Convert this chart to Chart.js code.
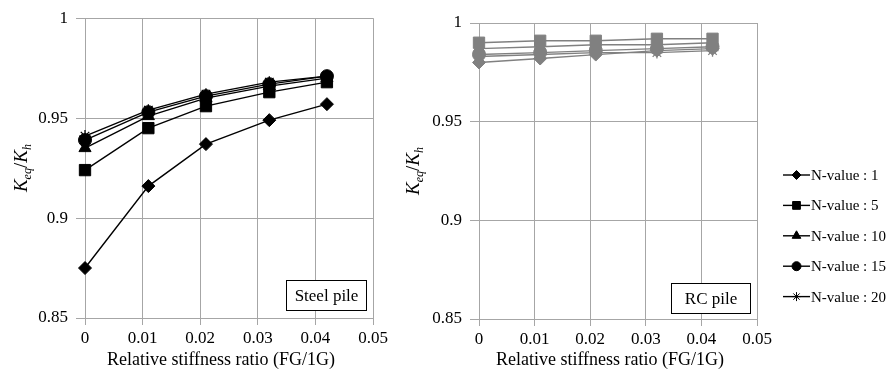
<!DOCTYPE html>
<html>
<head>
<meta charset="utf-8">
<title>Keq/Kh vs relative stiffness ratio</title>
<script src="https://cdn.jsdelivr.net/npm/chart.js@4/dist/chart.umd.min.js"></script>
<style>
  body { margin: 0; background: #fff; width: 896px; height: 371px; overflow: hidden; position: relative; }
  canvas { position: absolute; top: 0; }
  #steelChart { left: 0; }
  #rcChart { left: 400px; }
</style>
</head>
<body>
<canvas id="steelChart" width="440" height="371"></canvas>
<canvas id="rcChart" width="496" height="371"></canvas>
<script>
// relative stiffness ratio FG/1G
var stiffness = [0, 0.011, 0.021, 0.032, 0.042];

var seriesNames = ["N-value : 1", "N-value : 5", "N-value : 10", "N-value : 15", "N-value : 20"];
var markers = ["rectRot", "rect", "triangle", "circle", "star"];
var markerSize = [6.5, 8, 7, 6.5, 6];
var legendSize = [4.5, 5.5, 5, 4.5, 4.5];

// Keq/Kh, steel pile
var steelN1  = [0.875, 0.916, 0.937, 0.949, 0.957];
var steelN5  = [0.924, 0.945, 0.956, 0.963, 0.968];
var steelN10 = [0.935, 0.951, 0.960, 0.966, 0.970];
var steelN15 = [0.939, 0.953, 0.961, 0.967, 0.971];
var steelN20 = [0.941, 0.954, 0.962, 0.968, 0.971];

// Keq/Kh, RC pile
var rcN1  = [0.980, 0.982, 0.984, 0.986, 0.987];
var rcN5  = [0.990, 0.991, 0.991, 0.992, 0.992];
var rcN10 = [0.987, 0.988, 0.989, 0.989, 0.990];
var rcN15 = [0.984, 0.985, 0.986, 0.987, 0.988];
var rcN20 = [0.983, 0.984, 0.985, 0.985, 0.986];

var yTicks = [0.85, 0.9, 0.95, 1];
var xTitle = "Relative stiffness ratio (FG/1G)";

var FONT = "'Liberation Serif', 'Times New Roman', serif";
var GRID = "#a6a6a6";

function makeDatasets(rows, color) {
    var ds = [];
    for (var i = 0; i < rows.length; i++) {
        var pts = [];
        for (var j = 0; j < stiffness.length; j++) pts.push({ x: stiffness[j], y: rows[i][j] });
        ds.push({
            label: seriesNames[i],
            data: pts,
            borderColor: color,
            backgroundColor: color,
            borderWidth: 1.4,
            pointStyle: markers[i],
            pointRadius: markerSize[i],
            pointBorderWidth: markers[i] == "star" ? 1.3 : 1,
            pointBorderColor: color,
            pointBackgroundColor: color,
            fill: false,
            tension: 0,
            clip: false,
            order: rows.length - i
        });
    }
    return ds;
}

function drawYTitle(ctx, cx, cy) {
    var parts = [
        { t: "K", f: "italic 19px " + FONT, dy: 0 },
        { t: "eq", f: "italic 12px " + FONT, dy: 4 },
        { t: "/", f: "19px " + FONT, dy: 0 },
        { t: "K", f: "italic 19px " + FONT, dy: 0 },
        { t: "h", f: "italic 12px " + FONT, dy: 4 }
    ];
    ctx.save();
    ctx.translate(cx, cy);
    ctx.rotate(-Math.PI / 2);
    var w = 0;
    parts.forEach(function(p) { ctx.font = p.f; w += ctx.measureText(p.t).width; });
    var x = -w / 2;
    ctx.fillStyle = "#000";
    ctx.textBaseline = "alphabetic";
    parts.forEach(function(p) {
        ctx.font = p.f;
        ctx.fillText(p.t, x, 6 + p.dy);
        x += ctx.measureText(p.t).width;
    });
    ctx.restore();
}

// axis titles, boxed panel name and (optionally) the shared legend
var panelDeco = {
    id: "panelDeco",
    afterDraw: function(chart, args, opts) {
        var ctx = chart.ctx;
        var area = chart.chartArea;
        drawYTitle(ctx, opts.titleX, (area.top + area.bottom) / 2);

        ctx.save();
        ctx.fillStyle = "#000";
        ctx.font = "18px " + FONT;
        ctx.textAlign = "center";
        ctx.textBaseline = "middle";
        ctx.fillText(xTitle, (area.left + area.right) / 2 - 8, 360);
        ctx.restore();

        var bx = area.right - opts.boxInset[0] - opts.boxW;
        var by = area.bottom - opts.boxInset[1] - opts.boxH;
        ctx.save();
        ctx.fillStyle = "#fff";
        ctx.fillRect(bx, by, opts.boxW, opts.boxH);
        ctx.strokeStyle = "#000";
        ctx.lineWidth = 1;
        ctx.strokeRect(bx + 0.5, by + 0.5, opts.boxW - 1, opts.boxH - 1);
        ctx.fillStyle = "#000";
        ctx.font = "17px " + FONT;
        ctx.textAlign = "center";
        ctx.textBaseline = "middle";
        ctx.fillText(opts.boxText, bx + opts.boxW / 2, by + opts.boxH / 2 + 1);
        ctx.restore();

        if (!opts.legend) return;
        var lg = opts.legend;
        ctx.save();
        for (var i = 0; i < seriesNames.length; i++) {
            var y = lg.top + i * lg.step;
            ctx.strokeStyle = "#000";
            ctx.lineWidth = 1.4;
            ctx.beginPath();
            ctx.moveTo(lg.x, y);
            ctx.lineTo(lg.x + lg.len, y);
            ctx.stroke();
            ctx.fillStyle = "#000";
            ctx.lineWidth = 1;
            Chart.helpers.drawPoint(ctx, { pointStyle: markers[i], radius: legendSize[i], rotation: 0, borderWidth: 1 }, lg.x + lg.len / 2, y);
            ctx.font = "15px " + FONT;
            ctx.textAlign = "left";
            ctx.textBaseline = "middle";
            ctx.fillText(seriesNames[i], lg.x + lg.len + 1, y + 1);
        }
        ctx.restore();
    }
};

function makeOptions(pad, yWidth, xHeight, deco) {
    return {
        responsive: false,
        animation: false,
        layout: { padding: pad },
        plugins: {
            legend: { display: false },
            tooltip: { enabled: false },
            panelDeco: deco
        },
        scales: {
            x: {
                type: "linear",
                min: 0,
                max: 0.05,
                ticks: {
                    stepSize: 0.01,
                    color: "#000",
                    font: { family: FONT, size: 17 },
                    padding: 3,
                    maxRotation: 0,
                    callback: function(v) { return String(Number(v.toFixed(2))); }
                },
                grid: { color: GRID, lineWidth: 1, tickLength: 7 },
                border: { color: GRID, width: 1 },
                afterFit: function(s) { s.height = xHeight; }
            },
            y: {
                min: 0.85,
                max: 1,
                afterBuildTicks: function(s) { s.ticks = yTicks.map(function(v) { return { value: v }; }); },
                ticks: {
                    color: "#000",
                    font: { family: FONT, size: 17 },
                    padding: 8,
                    callback: function(v) { return String(Number(v.toFixed(2))); }
                },
                grid: { color: GRID, lineWidth: 1, tickLength: 9 },
                border: { color: GRID, width: 1 },
                afterFit: function(s) { s.width = yWidth; }
            }
        }
    };
}

Chart.register(panelDeco);

new Chart(document.getElementById("steelChart"), {
    type: "line",
    data: { datasets: makeDatasets([steelN1, steelN5, steelN10, steelN15, steelN20], "#000") },
    options: makeOptions({ top: 17, right: 67, left: 0, bottom: 0 }, 85, 53, {
        titleX: 21, boxText: "Steel pile", boxW: 81, boxH: 31, boxInset: [6, 7]
    })
});

new Chart(document.getElementById("rcChart"), {
    type: "line",
    data: { datasets: makeDatasets([rcN1, rcN5, rcN10, rcN15, rcN20], "#808080") },
    options: makeOptions({ top: 23, right: 139, left: 0, bottom: 0 }, 79, 52, {
        titleX: 13, boxText: "RC pile", boxW: 80, boxH: 31, boxInset: [6, 5],
        legend: { x: 383, len: 27, top: 175, step: 30.4 }
    })
});
</script>
</body>
</html>
